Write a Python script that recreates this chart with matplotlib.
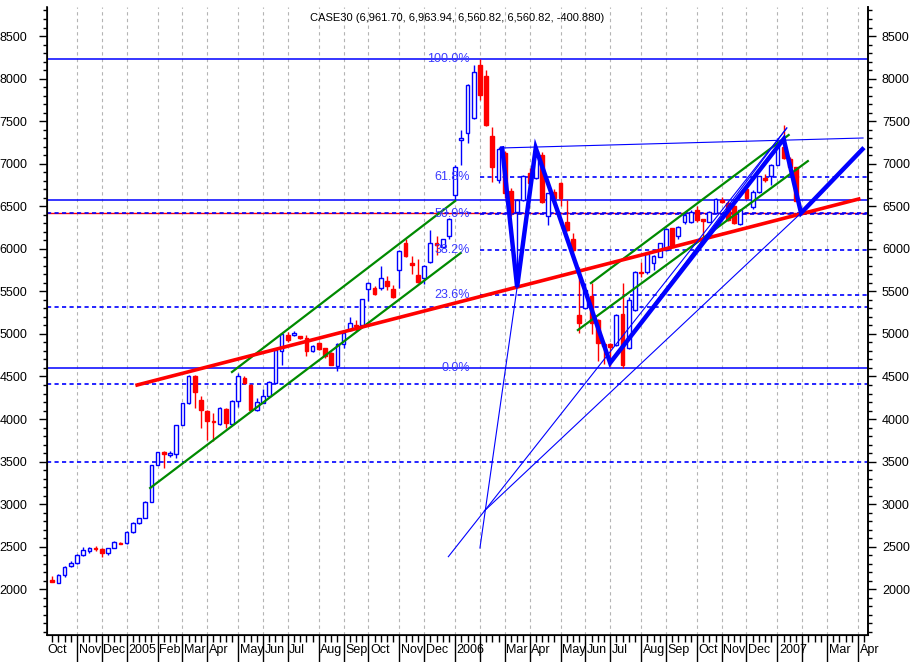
import datetime as dt
import matplotlib as mpl
mpl.use('Agg')
import matplotlib.pyplot as plt

# weekly CASE30 bars, Oct 2004 - Jan 2007
opens = [2110, 2075, 2170, 2275, 2305, 2405, 2455, 2480, 2470, 2430,
         2485, 2545, 2540, 2670, 2775, 2840, 3030, 3460, 3610, 3580,
         3590, 3930, 4185, 4505, 4225, 4100, 3975, 3940, 4120, 3940,
         4215, 4485, 4405, 4105, 4190, 4265, 4425, 4800, 4985, 4990,
         4975, 4950, 4795, 4890, 4830, 4780, 4625, 4880, 5045, 5110,
         5105, 5530, 5535, 5535, 5625, 5530, 5750, 6065, 5835, 5690,
         5655, 5850, 6065, 6020, 6150, 6630, 7280, 7360, 7535, 8160,
         8025, 7325, 6810, 7120, 6680, 6430, 6575, 6890, 6830, 7100,
         6380, 6670, 6770, 6320, 6120, 5220, 5305, 5440, 5165, 4880,
         4880, 4870, 5240, 4830, 5280, 5730, 5725, 5830, 5905, 5985,
         6240, 6145, 6310, 6310, 6455, 6345, 6320, 6425, 6575, 6540,
         6500, 6295, 6700, 6495, 6670, 6830, 6850, 6985, 7200, 7060,
         6961.70]
highs = [2160, 2175, 2270, 2330, 2410, 2500, 2500, 2510, 2480, 2490,
         2565, 2550, 2680, 2790, 2840, 3035, 3465, 3615, 3620, 3620,
         3935, 4190, 4520, 4520, 4265, 4110, 4075, 4140, 4125, 4220,
         4540, 4500, 4410, 4245, 4350, 4445, 4820, 5010, 5020, 5030,
         4980, 4990, 4870, 4900, 4840, 4790, 4890, 5020, 5200, 5160,
         5410, 5615, 5560, 5800, 5680, 5580, 5990, 6110, 5910, 5885,
         5810, 6220, 6150, 6120, 6360, 6980, 7400, 7940, 8160, 8230,
         8100, 7435, 7200, 7150, 6720, 6580, 6870, 6950, 7185, 7140,
         6660, 6700, 6780, 6575, 6180, 5790, 5600, 5600, 5180, 4900,
         4890, 5240, 5600, 5430, 5740, 5850, 5950, 5930, 6070, 6240,
         6250, 6270, 6420, 6460, 6505, 6350, 6440, 6600, 6610, 6560,
         6520, 6470, 6720, 6690, 6860, 6880, 7000, 7300, 7455, 7080,
         6963.94]
lows = [2080, 2070, 2150, 2265, 2300, 2395, 2430, 2450, 2380, 2400,
        2480, 2530, 2535, 2660, 2770, 2835, 3025, 3455, 3420, 3560,
        3540, 3925, 4180, 4125, 3900, 3750, 3740, 3935, 3900, 3935,
        4140, 4415, 4090, 4100, 4185, 4260, 4420, 4640, 4900, 4970,
        4945, 4740, 4785, 4810, 4720, 4630, 4560, 4830, 5040, 5040,
        5100, 5390, 5455, 5520, 5520, 5420, 5535, 5900, 5710, 5600,
        5585, 5830, 5925, 6005, 6120, 6570, 6980, 7240, 7520, 7750,
        7440, 6790, 6770, 6600, 6380, 5560, 6560, 6740, 6820, 6540,
        6280, 6560, 6500, 6210, 5960, 5007, 5290, 5000, 4680, 4650,
        4620, 4860, 4596, 4820, 5270, 5670, 5710, 5750, 5900, 5980,
        6020, 6120, 6290, 6300, 6320, 6130, 6310, 6420, 6540, 6330,
        6290, 6280, 6580, 6470, 6660, 6790, 6750, 6980, 7050, 6950,
        6560.82]
closes = [2085, 2170, 2265, 2310, 2405, 2460, 2485, 2470, 2425, 2480,
          2560, 2535, 2670, 2775, 2835, 3030, 3460, 3610, 3590, 3600,
          3930, 4185, 4510, 4320, 4105, 3980, 3960, 4135, 3950, 4215,
          4500, 4420, 4105, 4205, 4270, 4440, 4810, 5000, 4930, 5015,
          4950, 4800, 4855, 4820, 4735, 4640, 4880, 5010, 5130, 5090,
          5405, 5600, 5470, 5655, 5565, 5430, 5980, 5915, 5810, 5615,
          5800, 6065, 6050, 6110, 6345, 6965, 7300, 7925, 8080, 7810,
          7455, 6965, 7175, 6650, 6430, 6570, 6850, 6770, 7150, 6555,
          6650, 6595, 6595, 6220, 5985, 5130, 5515, 5125, 4890, 4860,
          4850, 5220, 4630, 5400, 5727, 5720, 5940, 5920, 6065, 6230,
          6025, 6260, 6395, 6435, 6340, 6330, 6435, 6590, 6555, 6340,
          6300, 6455, 6595, 6670, 6850, 6810, 6985, 7240, 7065, 6965,
          6560.82]

first_week = dt.date(2004, 10, 9)
axis_weeks = 132

title = "CASE30 (6,961.70, 6,963.94, 6,560.82, 6,560.82, -400.880)"

# drawn objects: (week index, price)
red_trend = [(13.7, 4400), (130.1, 6585)]
green_lines = [
    [(15.8, 3190), (65.9, 5951)],
    [(29.0, 4553), (65.0, 6562)],
    [(86.9, 5598), (118.8, 7337)],
    [(84.8, 5046), (121.9, 7031)],
]
zigzag = [(72.6, 7180), (75, 5550), (78, 7185), (90, 4660),
          (118, 7290), (120.8, 6420), (130.7, 7170)]
thin_lines = [
    [(72.6, 7185), (130.8, 7302)],
    [(69.0, 2485), (75.0, 5550)],
    [(63.9, 2383), (118.5, 7419)],
    [(90.0, 4660), (118.5, 7420)],
    [(69.7, 2920), (120.8, 6420)],
]

fib_start = 69
fib_low = 4596
fib_high = 8230
fib_ratios = [1.0, 0.618, 0.5, 0.382, 0.236, 0.0]
fib_names = ["100.0%", "61.8%", "50.0%", "38.2%", "23.6%", "0.0%"]

solid_levels = [8230, 6577, 4596]
dashed_levels = [6417, 5316, 4408, 3499]

BLUE = '#0000ff'
RED = '#ff0000'
GREEN = '#008a00'

plt.rcParams['font.family'] = ['Liberation Sans Narrow', 'Liberation Sans', 'DejaVu Sans']
plt.rcParams['font.size'] = 9

fig = plt.figure(figsize=(9.11, 6.62), dpi=100)
ax = fig.add_axes([47/911, 27/662, 821/911, 628/662])
ax.set_xlim(-0.84, 131.6)
ax.set_ylim(1463, 8841)

# month grid
axis_dates = [first_week + dt.timedelta(weeks=k) for k in range(axis_weeks)]
month_pos = [k for k in range(1, axis_weeks) if axis_dates[k].month != axis_dates[k - 1].month]
for k in month_pos:
    ax.axvline(k, color='#b4b4b4', lw=0.8, ls=(0, (3, 3)), zorder=0)

xtr = ax.get_xaxis_transform()
ax.text(-0.84, -0.014, axis_dates[0].strftime('%b'), transform=xtr, ha='left', va='top', fontsize=9)
prev_k, prev_year = -1, False
for k in month_pos:
    d = axis_dates[k]
    is_year = d.month == 1
    if prev_year and k - prev_k < 5:
        continue
    lab = str(d.year) if is_year else d.strftime('%b')
    ax.text(k + 0.25, -0.014, lab, transform=xtr, ha='left', va='top', fontsize=9)
    prev_k, prev_year = k, is_year

# horizontal levels
for lv in solid_levels:
    ax.axhline(lv, color=BLUE, lw=1.1, zorder=1)
ax.axhline(6417, color=RED, lw=1.0, zorder=1)
for lv in dashed_levels:
    ax.axhline(lv, color=BLUE, lw=1.2, ls=(0, (2.5, 2)), zorder=1)
for r, name in zip(fib_ratios, fib_names):
    lv = fib_low + r * (fib_high - fib_low)
    if 0 < r < 1:
        ax.hlines(lv, fib_start, 131.6, color=BLUE, lw=1.2, ls=(0, (2.5, 2)), zorder=1)
    ax.text(67.4, lv, name, color='#3a3aff', ha='right', va='center', fontsize=9, zorder=6)

# candles
for i, (o, h, l, c) in enumerate(zip(opens, highs, lows, closes)):
    up = c >= o
    col = BLUE if up else RED
    ax.vlines(i, l, h, color=col, lw=1.0, zorder=2)
    ax.bar(i, max(abs(c - o), 4), bottom=min(o, c), width=0.6,
           facecolor='white' if up else RED, edgecolor=col, lw=1.0, zorder=3)

# trend lines
for seg in green_lines:
    ax.plot([p[0] for p in seg], [p[1] for p in seg], color=GREEN, lw=1.6, zorder=4)
ax.plot([p[0] for p in red_trend], [p[1] for p in red_trend], color=RED, lw=2.6, zorder=4)
for seg in thin_lines:
    ax.plot([p[0] for p in seg], [p[1] for p in seg], color=BLUE, lw=0.8, zorder=4)
ax.plot([p[0] for p in zigzag], [p[1] for p in zigzag], color=BLUE, lw=3.2,
        solid_joinstyle='miter', zorder=5)

# axes styling
ax.spines['top'].set_visible(False)
for s in ['left', 'right', 'bottom']:
    ax.spines[s].set_linewidth(1.2)
yt = list(range(2000, 9000, 500))
ax.set_yticks(yt)
ax.set_yticks(range(1500, 8900, 100), minor=True)
ax.tick_params(axis='y', which='major', length=6, width=1, pad=8, labelsize=9)
ax.tick_params(axis='y', which='minor', length=3, width=1)
ax2 = ax.twinx()
ax2.set_ylim(ax.get_ylim())
ax2.set_yticks(yt)
ax2.set_yticks(range(1500, 8900, 100), minor=True)
ax2.tick_params(axis='y', which='major', length=6, width=1, pad=4, labelsize=9)
ax2.tick_params(axis='y', which='minor', length=3, width=1)
ax2.spines['top'].set_visible(False)
ax2.spines['right'].set_linewidth(1.2)

ax.set_xticks(month_pos)
ax.set_xticklabels([])
ax.set_xticks(range(0, axis_weeks), minor=True)
ax.tick_params(axis='x', which='major', length=20, width=1)
ax.tick_params(axis='x', which='minor', length=5, width=1)

fig.text(457/911, 1 - 18/662, title, ha='center', va='center', fontsize=8)

fig.savefig('out.png', dpi=100)
